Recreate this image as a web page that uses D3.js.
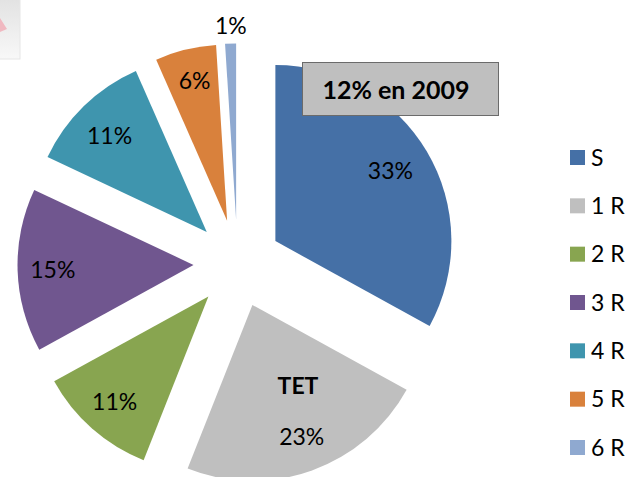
<!DOCTYPE html>
<html>
<head>
<meta charset="utf-8">
<script src="https://d3js.org/d3.v7.min.js"></script>
<style>
  html, body { margin: 0; padding: 0; background: #fff; overflow: hidden; }
  text { font-family: Lato, "Open Sans", sans-serif; fill: #000; }
</style>
</head>
<body>
<div id="chart"></div>
<script>
var categories = ["S", "1 R", "2 R", "3 R", "4 R", "5 R", "6 R"];
var values = [33, 23, 11, 15, 11.4, 5.6, 1];
var colors = ["#4570a6", "#bfbfbf", "#88a550", "#70568f", "#3f95ae", "#d9813c", "#8fa9d0"];
var labels = ["33%", "23%", "11%", "15%", "11%", "6%", "1%"];

var width = 628, height = 477;
var cx = 237.5, cy = 263.5, radius = 176, explode = 44;

var svg = d3.select("#chart").append("svg")
    .attr("width", width)
    .attr("height", height)
    .style("display", "block");

// the bit of another window left in the corner of the screenshot
var corner = svg.append("g");
var cornerGrad = svg.append("defs").append("linearGradient")
    .attr("id", "cornerGrad").attr("x1", 0).attr("y1", 0).attr("x2", 0).attr("y2", 1);
cornerGrad.append("stop").attr("offset", "0%").attr("stop-color", "#e2e2e2");
cornerGrad.append("stop").attr("offset", "100%").attr("stop-color", "#f8f8f8");
corner.append("rect").attr("x", -2).attr("y", -2).attr("width", 22).attr("height", 61)
    .attr("fill", "url(#cornerGrad)").attr("stroke", "#e6e6e6").attr("stroke-width", 1);
corner.append("path").attr("d", "M0,18 L7,29 L0,32 Z").attr("fill", "#f0b8c0");

var pie = d3.pie().sort(null).value(function(d) { return d; });
var arc = d3.arc().innerRadius(0).outerRadius(radius);
var arcs = pie(values);

// every slice is pulled out from the centre along its middle angle
function offset(d) {
  var mid = (d.startAngle + d.endAngle) / 2;
  return [cx + explode * Math.sin(mid), cy - explode * Math.cos(mid)];
}

svg.append("g").selectAll("path")
  .data(arcs)
  .enter().append("path")
    .attr("d", arc)
    .attr("fill", function(d, i) { return colors[i]; })
    .attr("transform", function(d) { return "translate(" + offset(d) + ")"; });

// label spot: distance along the slice's middle angle, then a hand nudge in px
var labelPos = [0.7, 0.76, 0.72, 0.8, 0.71, 0.78, 1.13];
var labelShift = [[9, -7], [4, 6], [-10, 10], [0, 1], [-10, -7], [0, -6], [1, 5]];

svg.append("g").selectAll("text")
  .data(arcs)
  .enter().append("text")
    .attr("text-anchor", "middle")
    .attr("dy", "0.35em")
    .style("font-size", "23px")
    .attr("transform", function(d, i) {
      var o = offset(d), mid = (d.startAngle + d.endAngle) / 2, r = radius * labelPos[i];
      return "translate(" + (o[0] + r * Math.sin(mid) + labelShift[i][0]) + "," + (o[1] - r * Math.cos(mid) + labelShift[i][1]) + ")";
    })
    .text(function(d, i) { return labels[i]; });

svg.append("text")
    .attr("x", 298).attr("y", 386).attr("dy", "0.35em")
    .attr("text-anchor", "middle")
    .style("font-size", "23px").style("font-weight", "700")
    .text("TET");

// callout box
svg.append("rect")
    .attr("x", 302.5).attr("y", 62.5).attr("width", 196).attr("height", 53)
    .attr("fill", "#bfbfbf").attr("stroke", "#6b6b6b").attr("stroke-width", 1);
svg.append("text")
    .attr("x", 396).attr("y", 90).attr("dy", "0.35em")
    .attr("text-anchor", "middle")
    .style("font-size", "25px").style("font-weight", "700")
    .text("12% en 2009");

// legend
var legendY = d3.scalePoint().domain(categories).range([157.5, 447.5]);
var legend = svg.append("g").selectAll("g")
  .data(categories)
  .enter().append("g")
    .attr("transform", function(d) { return "translate(570," + legendY(d) + ")"; });
legend.append("rect")
    .attr("x", 0).attr("y", -7.5).attr("width", 15).attr("height", 15)
    .attr("fill", function(d, i) { return colors[i]; });
legend.append("text")
    .attr("x", 21).attr("dy", "0.35em")
    .style("font-size", "23px")
    .text(function(d) { return d; });
</script>
</body>
</html>
